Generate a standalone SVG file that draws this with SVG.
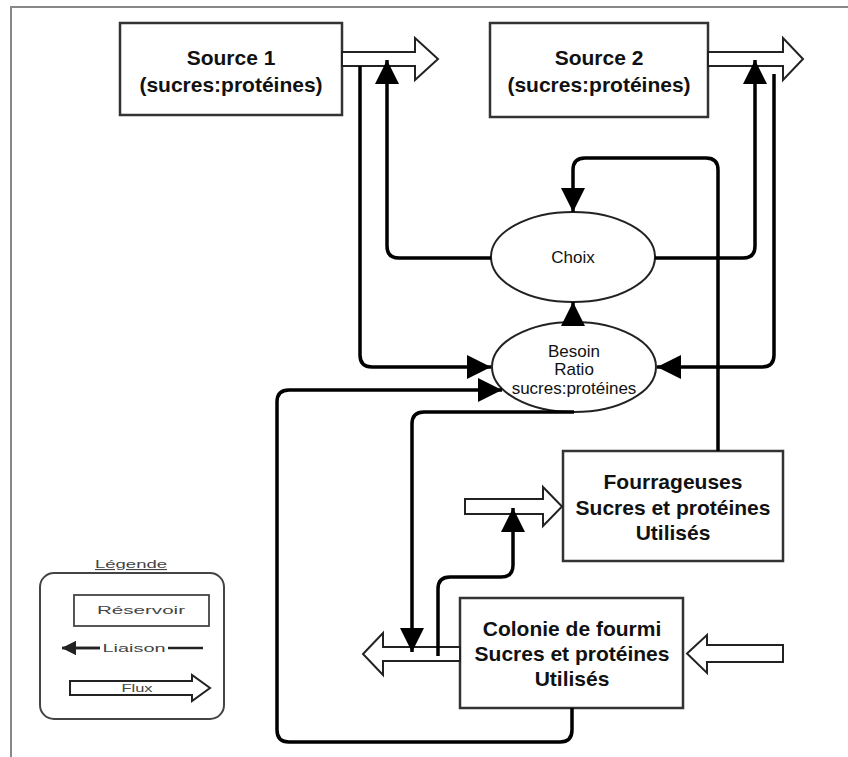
<svg xmlns="http://www.w3.org/2000/svg" width="848" height="757" viewBox="0 0 848 757">
<style>
  .box{fill:#fff;stroke:#333;stroke-width:2.5}
  .ell{fill:#fff;stroke:#222;stroke-width:2}
  .flux{fill:#fff;stroke:#222;stroke-width:2;stroke-linejoin:miter}
  .con{fill:none;stroke:#000;stroke-width:3.5;stroke-linecap:butt;stroke-linejoin:round}
  .tb{font-family:"Liberation Sans",Arial,sans-serif;font-weight:bold;font-size:21px;fill:#111;text-anchor:middle}
  .tn{font-family:"Liberation Sans",Arial,sans-serif;font-size:17px;fill:#111;text-anchor:middle}
  .tl{font-family:"Liberation Sans",Arial,sans-serif;font-size:11px;fill:#444;text-anchor:middle}
  .frame{fill:none;stroke:#888;stroke-width:2}
</style>
<defs>
  <marker id="ah" markerUnits="userSpaceOnUse" viewBox="0 0 24 24" refX="24" refY="12" markerWidth="24" markerHeight="24" orient="auto">
    <path d="M0,0 L24,12 L0,24 z" fill="#000"/>
  </marker>
  <marker id="ahs" markerUnits="userSpaceOnUse" viewBox="0 0 14 14" refX="14" refY="7" markerWidth="14" markerHeight="14" orient="auto">
    <path d="M0,0 L14,7 L0,14 z" fill="#222"/>
  </marker>
</defs>
<rect width="848" height="757" fill="#fff"/>
<path class="frame" d="M11,757 V7 H848"/>

<g id="source1">
  <rect class="box" x="120" y="23" width="222" height="92"/>
  <text class="tb" x="231" y="65">Source 1</text>
  <text class="tb" x="231" y="92">(sucres:protéines)</text>
</g>
<g id="source2">
  <rect class="box" x="490" y="23" width="218" height="94"/>
  <text class="tb" x="599" y="65">Source 2</text>
  <text class="tb" x="599" y="92">(sucres:protéines)</text>
</g>
<g id="choix">
  <ellipse class="ell" cx="573" cy="257" rx="82" ry="45"/>
  <text class="tn" x="573" y="263">Choix</text>
</g>
<g id="besoin">
  <ellipse class="ell" cx="574" cy="367" rx="82" ry="45"/>
  <text class="tn" x="574" y="357">Besoin</text>
  <text class="tn" x="574" y="375">Ratio</text>
  <text class="tn" x="574" y="394">sucres:protéines</text>
</g>
<g id="fourrageuses">
  <rect class="box" x="563" y="451" width="220" height="110"/>
  <text class="tb" x="673" y="489">Fourrageuses</text>
  <text class="tb" x="673" y="515">Sucres et protéines</text>
  <text class="tb" x="673" y="540">Utilisés</text>
</g>
<g id="colonie">
  <rect class="box" x="460" y="598" width="223" height="110"/>
  <text class="tb" x="572" y="636">Colonie de fourmi</text>
  <text class="tb" x="572" y="661">Sucres et protéines</text>
  <text class="tb" x="572" y="686">Utilisés</text>
</g>

<g id="flux">
  <path class="flux" d="M342,52 H415 V38 L438,59 L415,80 V66 H342 z"/>
  <path class="flux" d="M708,52 H783 V38 L803,59 L783,80 V66 H708 z"/>
  <path class="flux" d="M465,499 H543 V487 L562,506.5 L543,526 V514 H465 z"/>
  <path class="flux" d="M783,645 H707 V635 L687,653.5 L707,673 V662 H783 z"/>
  <path class="flux" d="M460,647 H383 V633 L363,654 L383,675 V661 H460 z"/>
</g>

<g id="connectors">
  <path class="con" d="M360,66 V355 Q360,367 372,367 H491" marker-end="url(#ah)"/>
  <path class="con" d="M491,258 H399 Q387,258 387,246 V60" marker-end="url(#ah)"/>
  <path class="con" d="M655,258 H743 Q755,258 755,246 V60" marker-end="url(#ah)"/>
  <path class="con" d="M774,74 V355 Q774,367 762,367 H657" marker-end="url(#ah)"/>
  <path class="con" d="M718,451 V170 Q718,158 706,158 H585 Q573,158 573,170 V212" marker-end="url(#ah)"/>
  <path class="con" d="M573,326 V302" marker-end="url(#ah)"/>
  <path class="con" d="M572,708 V730 Q572,742 560,742 H289 Q277,742 277,730 V402 Q277,390 289,390 H502" marker-end="url(#ah)"/>
  <path class="con" d="M574,412 H424 Q412,412 412,424 V652" marker-end="url(#ah)"/>
  <path class="con" d="M438,656 V589 Q438,577 450,577 H501 Q513,577 513,565 V508" marker-end="url(#ah)"/>
</g>

<g id="legende">
  <text class="tl" x="131" y="568" text-decoration="underline" textLength="72" lengthAdjust="spacingAndGlyphs">Légende</text>
  <rect x="40" y="573" width="184" height="146" rx="14" fill="none" stroke="#444" stroke-width="2"/>
  <rect x="74" y="595" width="135" height="31" fill="#fff" stroke="#444" stroke-width="1.8"/>
  <text class="tl" x="141" y="614" textLength="88" lengthAdjust="spacingAndGlyphs">Réservoir</text>
  <path d="M203,648 H168 M100,648 H62" fill="none" stroke="#222" stroke-width="2.5" marker-end="url(#ahs)"/>
  <path d="M100,648 H62" fill="none" stroke="#222" stroke-width="2.5" marker-end="url(#ahs)"/>
  <text class="tl" x="134" y="652" textLength="63" lengthAdjust="spacingAndGlyphs">Liaison</text>
  <path class="flux" d="M70,681 H192 V675 L210,688 L192,701 V695 H70 z" stroke-width="1.8"/>
  <text class="tl" x="137" y="692" textLength="31" lengthAdjust="spacingAndGlyphs">Flux</text>
</g>
</svg>
